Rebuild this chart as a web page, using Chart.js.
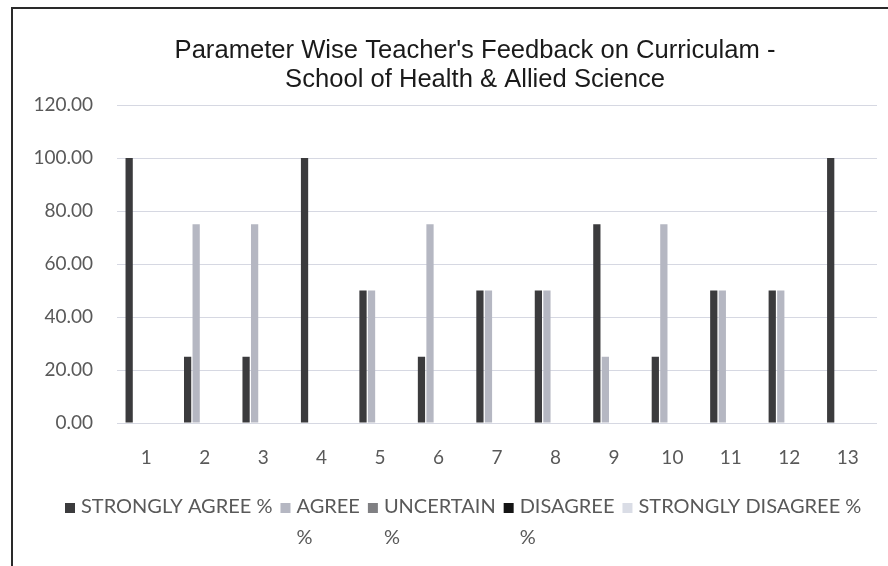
<!DOCTYPE html>
<html>
<head>
<meta charset="utf-8">
<script src="https://cdn.jsdelivr.net/npm/chart.js@4.4.1/dist/chart.umd.min.js"></script>
<style>
  html, body { margin: 0; padding: 0; background: #fff; }
  #wrap { position: relative; width: 888px; height: 566px; }
  #frame { position: absolute; left: 11px; top: 7px; width: 900px; height: 600px;
           border-left: 2px solid #2a2a2a; border-top: 2px solid #2a2a2a; }
  canvas { position: absolute; left: 0; top: 0; }
</style>
</head>
<body>
<div id="wrap">
  <div id="frame"></div>
  <canvas id="barChart" width="888" height="566"></canvas>
</div>
<script>
'use strict'

// data
const categories = ['1', '2', '3', '4', '5', '6', '7', '8', '9', '10', '11', '12', '13'];
const seriesNames = ['STRONGLY AGREE %', 'AGREE %', 'UNCERTAIN %', 'DISAGREE %', 'STRONGLY DISAGREE %'];
const stronglyAgree = [100, 25, 25, 100, 50, 25, 50, 50, 75, 25, 50, 50, 100];
const agree = [0, 75, 75, 0, 50, 75, 50, 50, 25, 75, 50, 50, 0];
const uncertain = [0, 0, 0, 0, 0, 0, 0, 0, 0, 0, 0, 0, 0];
const disagree = [0, 0, 0, 0, 0, 0, 0, 0, 0, 0, 0, 0, 0];
const stronglyDisagree = [0, 0, 0, 0, 0, 0, 0, 0, 0, 0, 0, 0, 0];
const yTicks = [0, 20, 40, 60, 80, 100, 120];

const titleLines = ["Parameter Wise Teacher's Feedback on Curriculam -", 'School of Health & Allied Science'];
const seriesColors = ['#3b3b3d', '#b5b7c2', '#808083', '#151515', '#dadde6'];
// legend text wraps like the original (Excel ran out of room)
const legendLines = [['STRONGLY AGREE %'], ['AGREE', '%'], ['UNCERTAIN', '%'], ['DISAGREE', '%'], ['STRONGLY DISAGREE %']];

const allSeries = [stronglyAgree, agree, uncertain, disagree, stronglyDisagree];

const labelFont = { family: 'Lato, "Open Sans", sans-serif', size: 19 };

// title sits a bit right of the canvas centre in the original, so draw it by hand
const offsetTitle = {
  id: 'offsetTitle',
  afterDraw(chart) {
    const ctx = chart.ctx;
    ctx.save();
    ctx.font = '25.6px "Liberation Sans", Arial, sans-serif';
    ctx.fillStyle = '#1a1a1a';
    ctx.textAlign = 'center';
    ctx.textBaseline = 'middle';
    titleLines.forEach(function (line, i) {
      ctx.fillText(line, 475, 51 + i * 29);
    });
    ctx.restore();
  }
};

// hand drawn legend, so the labels can wrap onto a 2nd line
const wrapLegend = {
  id: 'wrapLegend',
  afterDraw(chart) {
    const ctx = chart.ctx;
    ctx.save();
    ctx.font = '20px Lato, "Open Sans", sans-serif';
    ctx.textBaseline = 'middle';
    ctx.textAlign = 'left';
    let x = 65;
    const y = 507;
    for (let i = 0; i < chart.data.datasets.length; i++) {
      const ds = chart.data.datasets[i];
      ctx.fillStyle = ds.backgroundColor;
      ctx.fillRect(x, y - 4, 10, 10);
      x += 16;
      ctx.fillStyle = '#595959';
      let w = 0;
      legendLines[i].forEach(function (line, j) {
        ctx.fillText(line, x, y + j * 31);
        w = Math.max(w, ctx.measureText(line).width);
      });
      x += w + 8;
    }
    ctx.restore();
  }
};

const ctx = document.getElementById('barChart').getContext('2d');
const barChart = new Chart(ctx, {
  type: 'bar',
  data: {
    labels: categories,
    datasets: seriesNames.map(function (name, i) {
      return {
        label: name,
        data: allSeries[i],
        backgroundColor: seriesColors[i],
        borderWidth: 0,
        categoryPercentage: 0.73,
        barPercentage: 0.85
      };
    })
  },
  options: {
    responsive: false,
    animation: false,
    layout: { padding: { top: 105, right: 11, left: 0, bottom: 0 } },
    plugins: {
      legend: { display: false },
      tooltip: { enabled: false },
      title: { display: false }
    },
    scales: {
      x: {
        grid: { display: false },
        border: { display: false },
        ticks: { color: '#595959', font: labelFont, padding: 15, maxRotation: 0 },
        afterFit: function (scale) { scale.height = 143; }
      },
      y: {
        min: 0,
        max: 120,
        afterBuildTicks: function (scale) {
          scale.ticks = yTicks.map(function (v) { return { value: v }; });
        },
        grid: { color: '#d6d8e2', lineWidth: 1, drawTicks: false },
        border: { display: false },
        ticks: {
          color: '#595959',
          font: labelFont,
          padding: 24,
          callback: function (v) { return Number(v).toFixed(2); }
        },
        afterFit: function (scale) { scale.width = 117; }
      }
    }
  },
  plugins: [offsetTitle, wrapLegend]
});
</script>
</body>
</html>
